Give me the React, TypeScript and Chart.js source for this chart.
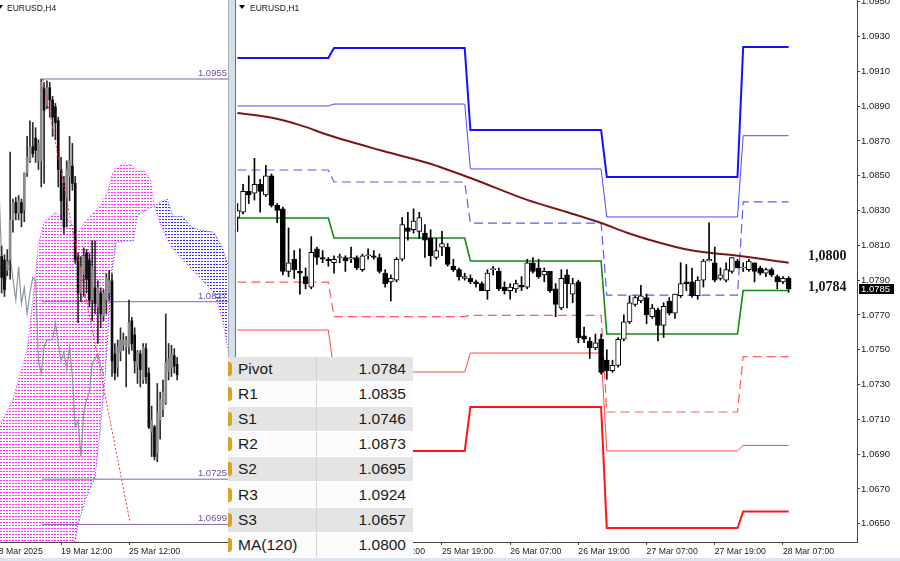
import React, { useEffect, useRef } from 'react';
import { Chart, registerables } from 'chart.js';

Chart.register(...registerables);
Chart.defaults.font.family = '"Liberation Sans", Arial, sans-serif';

// ================= H1 panel (right) =================
const h1Open = [1.0826,1.0829,1.0841,1.0840,1.0845,1.0839,1.0850,1.0833,1.0831,1.0795,
  1.0802,1.0795,1.0792,1.0786,1.0808,1.0803,1.0802,1.0800,1.0803,1.0803,
  1.0802,1.0803,1.0796,1.0804,1.0804,1.0803,1.0794,1.0789,1.0790,1.0802,
  1.0820,1.0819,1.0818,1.0817,1.0814,1.0803,1.0809,1.0809,1.0798,1.0796,
  1.0791,1.0791,1.0789,1.0788,1.0784,1.0796,1.0795,1.0786,1.0784,1.0785,
  1.0787,1.0786,1.0800,1.0797,1.0793,1.0795,1.0785,1.0774,1.0793,1.0782,
  1.0789,1.0758,1.0755,1.0751,1.0756,1.0744,1.0738,1.0741,1.0756,1.0766,
  1.0776,1.0778,1.0780,1.0769,1.0773,1.0764,1.0778,1.0771,1.0781,1.0789,
  1.0789,1.0781,1.0790,1.0801,1.0800,1.0791,1.0790,1.0795,1.0801,1.0797,
  1.0796,1.0800,1.0797,1.0794,1.0796,1.0792,1.0789,1.0791];
const h1High = [1.0834,1.0845,1.0850,1.0860,1.0848,1.0856,1.0851,1.0834,1.0832,1.0820,
  1.0807,1.0808,1.0797,1.0815,1.0809,1.0807,1.0803,1.0804,1.0805,1.0804,
  1.0809,1.0804,1.0805,1.0808,1.0807,1.0805,1.0796,1.0793,1.0803,1.0826,
  1.0829,1.0831,1.0829,1.0822,1.0819,1.0814,1.0818,1.0811,1.0802,1.0797,
  1.0794,1.0793,1.0790,1.0789,1.0796,1.0798,1.0797,1.0789,1.0788,1.0790,
  1.0792,1.0802,1.0803,1.0802,1.0797,1.0795,1.0788,1.0796,1.0796,1.0791,
  1.0790,1.0763,1.0757,1.0759,1.0759,1.0750,1.0744,1.0757,1.0770,1.0781,
  1.0781,1.0787,1.0782,1.0776,1.0774,1.0777,1.0780,1.0782,1.0800,1.0799,
  1.0797,1.0792,1.0802,1.0823,1.0809,1.0797,1.0800,1.0803,1.0802,1.0800,
  1.0802,1.0800,1.0798,1.0797,1.0797,1.0793,1.0792,1.0792];
const h1Low = [1.0818,1.0828,1.0834,1.0836,1.0829,1.0838,1.0832,1.0823,1.0793,1.0792,
  1.0791,1.0782,1.0785,1.0785,1.0799,1.0800,1.0798,1.0794,1.0800,1.0795,
  1.0800,1.0796,1.0795,1.0802,1.0802,1.0794,1.0786,1.0778,1.0789,1.0801,
  1.0813,1.0817,1.0814,1.0803,1.0798,1.0802,1.0804,1.0798,1.0795,1.0790,
  1.0790,1.0788,1.0786,1.0784,1.0779,1.0793,1.0784,1.0782,1.0779,1.0783,
  1.0784,1.0785,1.0794,1.0791,1.0789,1.0783,1.0769,1.0773,1.0774,1.0777,
  1.0754,1.0754,1.0745,1.0750,1.0736,1.0733,1.0737,1.0740,1.0755,1.0765,
  1.0775,1.0777,1.0765,1.0768,1.0755,1.0757,1.0770,1.0768,1.0780,1.0784,
  1.0780,1.0779,1.0786,1.0801,1.0789,1.0790,1.0789,1.0794,1.0797,1.0795,
  1.0795,1.0789,1.0793,1.0792,1.0792,1.0785,1.0788,1.0783];
const h1Close = [1.0830,1.0841,1.0839,1.0845,1.0841,1.0850,1.0833,1.0830,1.0795,1.0800,
  1.0796,1.0794,1.0788,1.0806,1.0803,1.0802,1.0801,1.0802,1.0803,1.0801,
  1.0803,1.0797,1.0804,1.0804,1.0803,1.0795,1.0788,1.0791,1.0802,1.0822,
  1.0818,1.0824,1.0826,1.0813,1.0804,1.0807,1.0811,1.0799,1.0796,1.0792,
  1.0792,1.0789,1.0788,1.0784,1.0794,1.0796,1.0785,1.0784,1.0786,1.0788,
  1.0786,1.0800,1.0795,1.0792,1.0795,1.0784,1.0776,1.0791,1.0788,1.0788,
  1.0757,1.0756,1.0751,1.0754,1.0737,1.0738,1.0741,1.0756,1.0766,1.0777,
  1.0780,1.0781,1.0770,1.0774,1.0764,1.0775,1.0771,1.0782,1.0788,1.0788,
  1.0781,1.0790,1.0801,1.0802,1.0790,1.0793,1.0796,1.0803,1.0797,1.0797,
  1.0801,1.0795,1.0794,1.0796,1.0793,1.0789,1.0791,1.0785];

const h1TickBars = [24, 36, 48, 60, 72, 84, 96];
const h1TickLabels = ['25 Mar 07:00', '25 Mar 19:00', '26 Mar 07:00', '26 Mar 19:00', '27 Mar 07:00', '27 Mar 19:00', '28 Mar 07:00'];
const h1PriceTicks = [1.0650, 1.0670, 1.0690, 1.0710, 1.0730, 1.0750, 1.0770, 1.0790, 1.0810, 1.0830, 1.0850, 1.0870, 1.0890, 1.0910, 1.0930, 1.0950];

// daily pivot levels: Mar 24, 25, 26, 27, 28
const dayStartBar = [0, 17, 41, 65, 89];
const dayEndBar = [16, 40, 64, 88, 97];
const pivotR3 = [1.09176, 1.09234, 1.08763, 1.08493, 1.0924];
const pivotR2 = [1.08901, 1.08912, 1.08539, 1.08263, 1.0873];
const pivotR1 = [1.08533, 1.08464, 1.08228, 1.07814, 1.0835];
const pivotP = [1.08257, 1.08142, 1.08010, 1.07590, 1.0784];
const pivotS1 = [1.07889, 1.07690, 1.07698, 1.07142, 1.0746];
const pivotS2 = [1.07613, 1.07372, 1.07481, 1.06918, 1.0695];
const pivotS3 = [1.07330, 1.06918, 1.07171, 1.06475, 1.0657];

// MA(120)
const maBars = [0, 5.4, 11, 16, 25, 33.5, 41, 51, 58.5, 64, 68.7, 72.6, 79.6, 88.4, 97];
const maValues = [1.0886, 1.08837, 1.08791, 1.08734, 1.08648, 1.08573, 1.08487, 1.08361, 1.08286, 1.08228, 1.08171, 1.08131, 1.08073, 1.08039, 1.0800];

const tableNames = ['Pivot', 'R1', 'S1', 'R2', 'S2', 'R3', 'S3', 'MA(120)'];
const tableValues = [pivotP[4], pivotR1[4], pivotS1[4], pivotR2[4], pivotS2[4], pivotR3[4], pivotS3[4], maValues[maValues.length - 1]];

// ================= H4 panel (left) =================
const h4Open = [1.0853,1.0851,1.0845,1.0851,1.0874,1.0884,1.0878,1.0884,1.0880,1.0901,
  1.0908,1.0916,1.0921,1.0908,1.0908,1.0950,1.0940,1.0950,1.0943,1.0939,
  1.0931,1.0903,1.0895,1.0887,1.0899,1.0905,1.0895,1.0853,1.0832,1.0843,
  1.0855,1.0851,1.0828,1.0835,1.0824,1.0832,1.0819,1.0828,1.0832,1.0839,
  1.0797,1.0789,1.0798,1.0802,1.0801,1.0801,1.0816,1.0808,1.0790,1.0797,
  1.0782,1.0800,1.0786,1.0752,1.0755,1.0740,1.0759,1.0765,1.0769,1.0787,
  1.0789,1.0796,1.0791];
const h4High = [1.0859,1.0854,1.0857,1.0913,1.0886,1.0887,1.0888,1.0886,1.0901,1.0922,
  1.0931,1.0930,1.0927,1.0920,1.0955,1.0953,1.0954,1.0953,1.0945,1.0941,
  1.0933,1.0910,1.0899,1.0908,1.0922,1.0918,1.0899,1.0855,1.0853,1.0858,
  1.0857,1.0855,1.0862,1.0862,1.0839,1.0835,1.0834,1.0843,1.0845,1.0843,
  1.0803,1.0805,1.0812,1.0809,1.0807,1.0828,1.0818,1.0812,1.0799,1.0799,
  1.0803,1.0803,1.0789,1.0767,1.0756,1.0780,1.0775,1.0782,1.0820,1.0803,
  1.0802,1.0800,1.0795];
const h4Low = [1.0832,1.0830,1.0842,1.0840,1.0867,1.0874,1.0874,1.0870,1.0873,1.0899,
  1.0907,1.0910,1.0907,1.0903,1.0893,1.0895,1.0938,1.0933,1.0922,1.0920,
  1.0893,1.0874,1.0866,1.0870,1.0885,1.0891,1.0849,1.0815,1.0827,1.0830,
  1.0832,1.0824,1.0816,1.0820,1.0803,1.0812,1.0816,1.0820,1.0828,1.0784,
  1.0782,1.0784,1.0793,1.0799,1.0778,1.0797,1.0799,1.0786,1.0780,1.0778,
  1.0780,1.0780,1.0754,1.0738,1.0736,1.0735,1.0748,1.0761,1.0768,1.0782,
  1.0784,1.0786,1.0782];
const h4Close = [1.0841,1.0834,1.0850,1.0874,1.0884,1.0878,1.0885,1.0878,1.0901,1.0910,
  1.0916,1.0912,1.0914,1.0918,1.0953,1.0937,1.0950,1.0943,1.0933,1.0930,
  1.0903,1.0885,1.0870,1.0903,1.0908,1.0895,1.0851,1.0832,1.0847,1.0853,
  1.0840,1.0828,1.0847,1.0826,1.0835,1.0820,1.0832,1.0841,1.0839,1.0793,
  1.0786,1.0801,1.0805,1.0805,1.0805,1.0815,1.0803,1.0793,1.0798,1.0788,
  1.0801,1.0784,1.0755,1.0759,1.0738,1.0763,1.0771,1.0775,1.0792,1.0794,
  1.0797,1.0790,1.0785];

const kumoBars = [-3, 4, 9, 11, 13, 15, 19, 23, 26, 27, 29.5, 33, 35, 36.5, 37.6, 39, 40.5, 43.5, 46.5, 48, 50.5, 52.5, 54, 56, 58.5, 60.5, 64, 67, 70, 75, 78, 81];
const spanA = [1.0748, 1.0771, 1.0799, 1.0828, 1.0860, 1.0873, 1.0878, 1.0875, 1.0869, 1.0867, 1.0873, 1.0879, 1.0883, 1.0887, 1.0891, 1.0900, 1.0904, 1.0907, 1.0905, 1.0902, 1.0902, 1.0897, 1.0882, 1.0872, 1.0863, 1.0857, 1.0851, 1.0846, 1.0841, 1.0832, 1.0817, 1.0790];
const spanB = [1.0660, 1.0660, 1.0660, 1.0660, 1.0660, 1.0660, 1.0660, 1.0661, 1.0690, 1.0699, 1.0713, 1.0726, 1.0756, 1.0782, 1.0811, 1.0845, 1.0861, 1.0862, 1.0862, 1.0877, 1.0879, 1.0881, 1.0882, 1.0884, 1.0886, 1.0876, 1.0876, 1.0870, 1.0868, 1.0867, 1.0858, 1.0843];
const chikouShift = 26;
const chikouFrom = 23;

const levelValues = [1.0955, 1.0827, 1.0725, 1.0699];
const levelStartBar = 14.3;
const trendBars = [14.6, 45.4];
const trendValues = [1.0955, 1.0700];

const h4TickBars = [-2.7, 21, 45];
const h4TickLabels = ['18 Mar 2025', '19 Mar 12:00', '25 Mar 12:00'];

// ================= helpers =================
function candleSets(o: number[], h: number[], l: number[], c: number[], bodyW: number, bull: string, bear: string, border: string | null, wick: string) {
  return [
    {
      type: 'bar',
      data: o.map((v, i) => ({ x: i, y: [v, c[i]] })),
      backgroundColor: o.map((v, i) => (c[i] >= v ? bull : bear)),
      borderColor: border || 'rgba(0,0,0,0)',
      borderWidth: border ? 1 : 0,
      borderSkipped: false,
      barThickness: bodyW,
      grouped: false,
      minBarLength: 1,
      order: 0,
    },
    {
      type: 'bar',
      data: l.map((v, i) => ({ x: i, y: [v, h[i]] })),
      backgroundColor: wick,
      borderWidth: 0,
      barThickness: 1,
      grouped: false,
      order: 1,
    },
  ];
}

function lineSet(data: any[], color: string, width: number, dash: number[], order: number, extra: any = {}) {
  return { type: 'line', data, borderColor: color, borderWidth: width, borderDash: dash, pointRadius: 0, fill: false, tension: 0, order, ...extra };
}

const stepPoints = (vals: number[]) => vals.flatMap((v, d) => [{ x: dayStartBar[d], y: v }, { x: dayEndBar[d], y: v }]);

function dotPattern(color: string, size: number, dw: number, dh: number) {
  const c = document.createElement('canvas');
  c.width = size; c.height = size;
  const g = c.getContext('2d')!;
  g.fillStyle = color;
  g.fillRect(0, 0, dw, dh);
  return g.createPattern(c, 'repeat');
}

const markBar = 100.4;
const markTexts = [
  { value: maValues[maValues.length - 1], dy: -6 },
  { value: pivotP[4], dy: -3 },
];

export default function App() {
  const leftRef = useRef<HTMLCanvasElement>(null);
  const rightRef = useRef<HTMLCanvasElement>(null);

  useEffect(() => {
    const pink = dotPattern('#ff2cff', 3, 2, 1);
    const blue = dotPattern('#3030ff', 3, 2, 1);

    // ---------- left ----------
    const leftSets: any[] = [];
    leftSets.push(lineSet(trendBars.map((x, k) => ({ x, y: trendValues[k] })), '#ff2a2a', 1, [2, 2], -1));
    leftSets.push(...candleSets(h4Open, h4High, h4Low, h4Close, 2, '#8a8a8a', '#0c0c0c', null, '#2a2a2a'));
    leftSets.push(lineSet(h4Close.slice(chikouFrom).map((c, k) => ({ x: k + chikouFrom - chikouShift, y: c })), '#8c949c', 1.2, [], 3));
    levelValues.forEach((v) => leftSets.push(lineSet([{ x: levelStartBar, y: v }, { x: 81, y: v }], '#8565b5', 1, [], 4)));
    const spanBIndex = leftSets.length;
    leftSets.push(lineSet(kumoBars.map((x, k) => ({ x, y: spanB[k] })), '#3030ff', 1, [1, 2], 5));
    leftSets.push(lineSet(kumoBars.map((x, k) => ({ x, y: spanA[k] })), '#ff20ff', 1, [1, 2], 6, { fill: { target: spanBIndex, above: pink, below: blue } }));

    const leftLabels = {
      id: 'leftLabels',
      afterDatasetsDraw(chart: any) {
        const { ctx, chartArea, scales } = chart;
        ctx.save();
        ctx.font = '9.5px "Liberation Sans", Arial, sans-serif';
        ctx.fillStyle = '#6c4fa0';
        ctx.textAlign = 'right';
        ctx.textBaseline = 'bottom';
        levelValues.forEach((v) => ctx.fillText(v.toFixed(4), chartArea.right - 1, scales.y.getPixelForValue(v) - 1));
        ctx.restore();
      },
    };

    const left = new Chart(leftRef.current!, {
      type: 'bar',
      data: { datasets: leftSets },
      options: {
        animation: false, responsive: false, devicePixelRatio: 1, events: [],
        layout: { padding: 0 },
        plugins: { legend: { display: false }, tooltip: { enabled: false } },
        scales: {
          x: {
            type: 'linear', min: -2.7, max: 79.98, offset: false,
            afterBuildTicks: (s: any) => { s.ticks = h4TickBars.map((v) => ({ value: v })); },
            afterFit: (s: any) => { s.height = 19; s.paddingLeft = 0; s.paddingRight = 0; },
            ticks: { autoSkip: false, maxRotation: 0, align: 'start', padding: 1, color: '#222', font: { size: 8.7 },
              callback: (v: any) => { const k = h4TickBars.indexOf(v); return k >= 0 ? h4TickLabels[k] : ''; } },
            grid: { drawOnChartArea: false, tickLength: 3, color: '#444', offset: false },
            border: { display: true, color: '#444' },
          },
          y: { type: 'linear', display: false, min: 1.06889, max: 1.10004 },
        },
      } as any,
      plugins: [leftLabels],
    });

    // ---------- right ----------
    const rightSets: any[] = [...candleSets(h1Open, h1High, h1Low, h1Close, 5, '#ffffff', '#000000', '#000000', '#000000')];
    rightSets.push(lineSet(maBars.map((x, k) => ({ x, y: maValues[k] })), '#7e1515', 2, [], 2, { cubicInterpolationMode: 'monotone' }));
    rightSets.push(lineSet(stepPoints(pivotR3), '#1212ff', 2, [], 3));
    rightSets.push(lineSet(stepPoints(pivotR2), '#4a4aff', 1, [], 3));
    rightSets.push(lineSet(stepPoints(pivotR1), '#5c5cff', 1.2, [9, 5], 3));
    rightSets.push(lineSet(stepPoints(pivotP), '#138a13', 1.6, [], 3));
    rightSets.push(lineSet(stepPoints(pivotS1), '#ff5c5c', 1.2, [9, 5], 3));
    rightSets.push(lineSet(stepPoints(pivotS2), '#ff4646', 1, [], 3));
    rightSets.push(lineSet(stepPoints(pivotS3), '#ff1414', 2, [], 3));

    const rightMarks = {
      id: 'rightMarks',
      afterDatasetsDraw(chart: any) {
        const { ctx, chartArea, scales } = chart;
        ctx.save();
        ctx.font = 'bold 14px "Liberation Serif", "Times New Roman", serif';
        ctx.fillStyle = '#161616';
        ctx.textAlign = 'left';
        ctx.textBaseline = 'middle';
        markTexts.forEach((t) => {
          ctx.fillText(t.value.toFixed(4).replace('.', ','), scales.x.getPixelForValue(markBar), scales.y.getPixelForValue(t.value) + t.dy);
        });
        const last = h1Close[h1Close.length - 1];
        const py = Math.round(scales.y.getPixelForValue(last));
        ctx.fillStyle = '#000';
        ctx.fillRect(chartArea.right + 2, py - 5, 35, 10);
        ctx.fillStyle = '#fff';
        ctx.font = '9.5px "Liberation Sans", Arial, sans-serif';
        ctx.fillText(last.toFixed(4), chartArea.right + 4, py + 0.5);
        ctx.restore();
      },
    };

    const right = new Chart(rightRef.current!, {
      type: 'bar',
      data: { datasets: rightSets },
      options: {
        animation: false, responsive: false, devicePixelRatio: 1, events: [],
        layout: { padding: { left: 3, right: 0, top: 0, bottom: 0 } },
        plugins: { legend: { display: false }, tooltip: { enabled: false } },
        scales: {
          x: {
            type: 'linear', min: -0.07, max: 109.03, offset: false,
            afterBuildTicks: (s: any) => { s.ticks = h1TickBars.map((v) => ({ value: v })); },
            afterFit: (s: any) => { s.height = 19; s.paddingLeft = 0; s.paddingRight = 0; },
            ticks: { autoSkip: false, maxRotation: 0, align: 'start', padding: 1, color: '#222', font: { size: 8.7 },
              callback: (v: any) => { const k = h1TickBars.indexOf(v); return k >= 0 ? h1TickLabels[k] : ''; } },
            grid: { drawOnChartArea: false, tickLength: 3, color: '#444', offset: false },
            border: { display: true, color: '#444' },
          },
          y: {
            type: 'linear', position: 'right', min: 1.06395, max: 1.0951,
            afterBuildTicks: (s: any) => { s.ticks = h1PriceTicks.map((v) => ({ value: v })); },
            afterFit: (s: any) => { s.width = 43; s.paddingTop = 0; s.paddingBottom = 0; },
            ticks: { padding: 1, color: '#222', font: { size: 9.5 }, callback: (v: any) => Number(v).toFixed(4) },
            grid: { drawOnChartArea: false, tickLength: 3, color: '#444' },
            border: { display: true, color: '#444' },
          },
        },
      } as any,
      plugins: [rightMarks],
    });

    return () => { left.destroy(); right.destroy(); };
  }, []);

  const titleFont = '8.5px "Liberation Sans", Arial, sans-serif';
  const tri = (left: number) => (
    <div style={{ position: 'absolute', left, top: 5, width: 0, height: 0, borderLeft: '3px solid transparent', borderRight: '3px solid transparent', borderTop: '4px solid #000' }} />
  );

  return (
    <div style={{ position: 'fixed', left: 0, top: 0, width: 900, height: 561, overflow: 'hidden', background: '#fff' }}>
      <canvas ref={leftRef} width={234} height={561} style={{ position: 'absolute', left: -6, top: 0, width: 234, height: 561 }} />
      <canvas ref={rightRef} width={666} height={561} style={{ position: 'absolute', left: 234, top: 0, width: 666, height: 561 }} />
      <div style={{ position: 'absolute', left: 228, top: 0, width: 8, height: 561, background: '#d6dee8', borderLeft: '1px solid #a4acb6', borderRight: '1px solid #6e6e6e', boxSizing: 'border-box' }} />
      {tri(-3)}
      <div style={{ position: 'absolute', left: 7, top: 2.5, font: titleFont, lineHeight: '10px', color: '#111', whiteSpace: 'nowrap' }}>EURUSD,H4</div>
      {tri(239)}
      <div style={{ position: 'absolute', left: 250, top: 2.5, font: titleFont, lineHeight: '10px', color: '#111', whiteSpace: 'nowrap' }}>EURUSD,H1</div>

      <div style={{ position: 'absolute', left: 228, top: 357, width: 185, height: 201, background: '#fff' }}>
        {tableNames.map((n, k) => (
          <div key={n} style={{ position: 'absolute', left: 0, top: Math.round(k * 25.1), width: 185, height: 24, background: k % 2 === 0 ? '#e4e4e4' : '#fbfbfb', display: 'flex', font: '15.5px "Liberation Sans", Arial, sans-serif', lineHeight: '24px', color: '#1a1a1a' }}>
            <div style={{ position: 'absolute', left: 0, top: 5, width: 4, height: 14, background: '#d9a521', borderRadius: '0 3px 3px 0' }} />
            <div style={{ width: 88, paddingLeft: 10, boxSizing: 'border-box', whiteSpace: 'nowrap' }}>{n}</div>
            <div style={{ width: 97, paddingRight: 7, boxSizing: 'border-box', textAlign: 'right', borderLeft: '1px solid #d2d2d2' }}>{tableValues[k].toFixed(4)}</div>
          </div>
        ))}
      </div>
      <div style={{ position: 'absolute', left: 0, top: 558, width: 900, height: 3, background: '#d9e5f1' }} />
    </div>
  );
}
